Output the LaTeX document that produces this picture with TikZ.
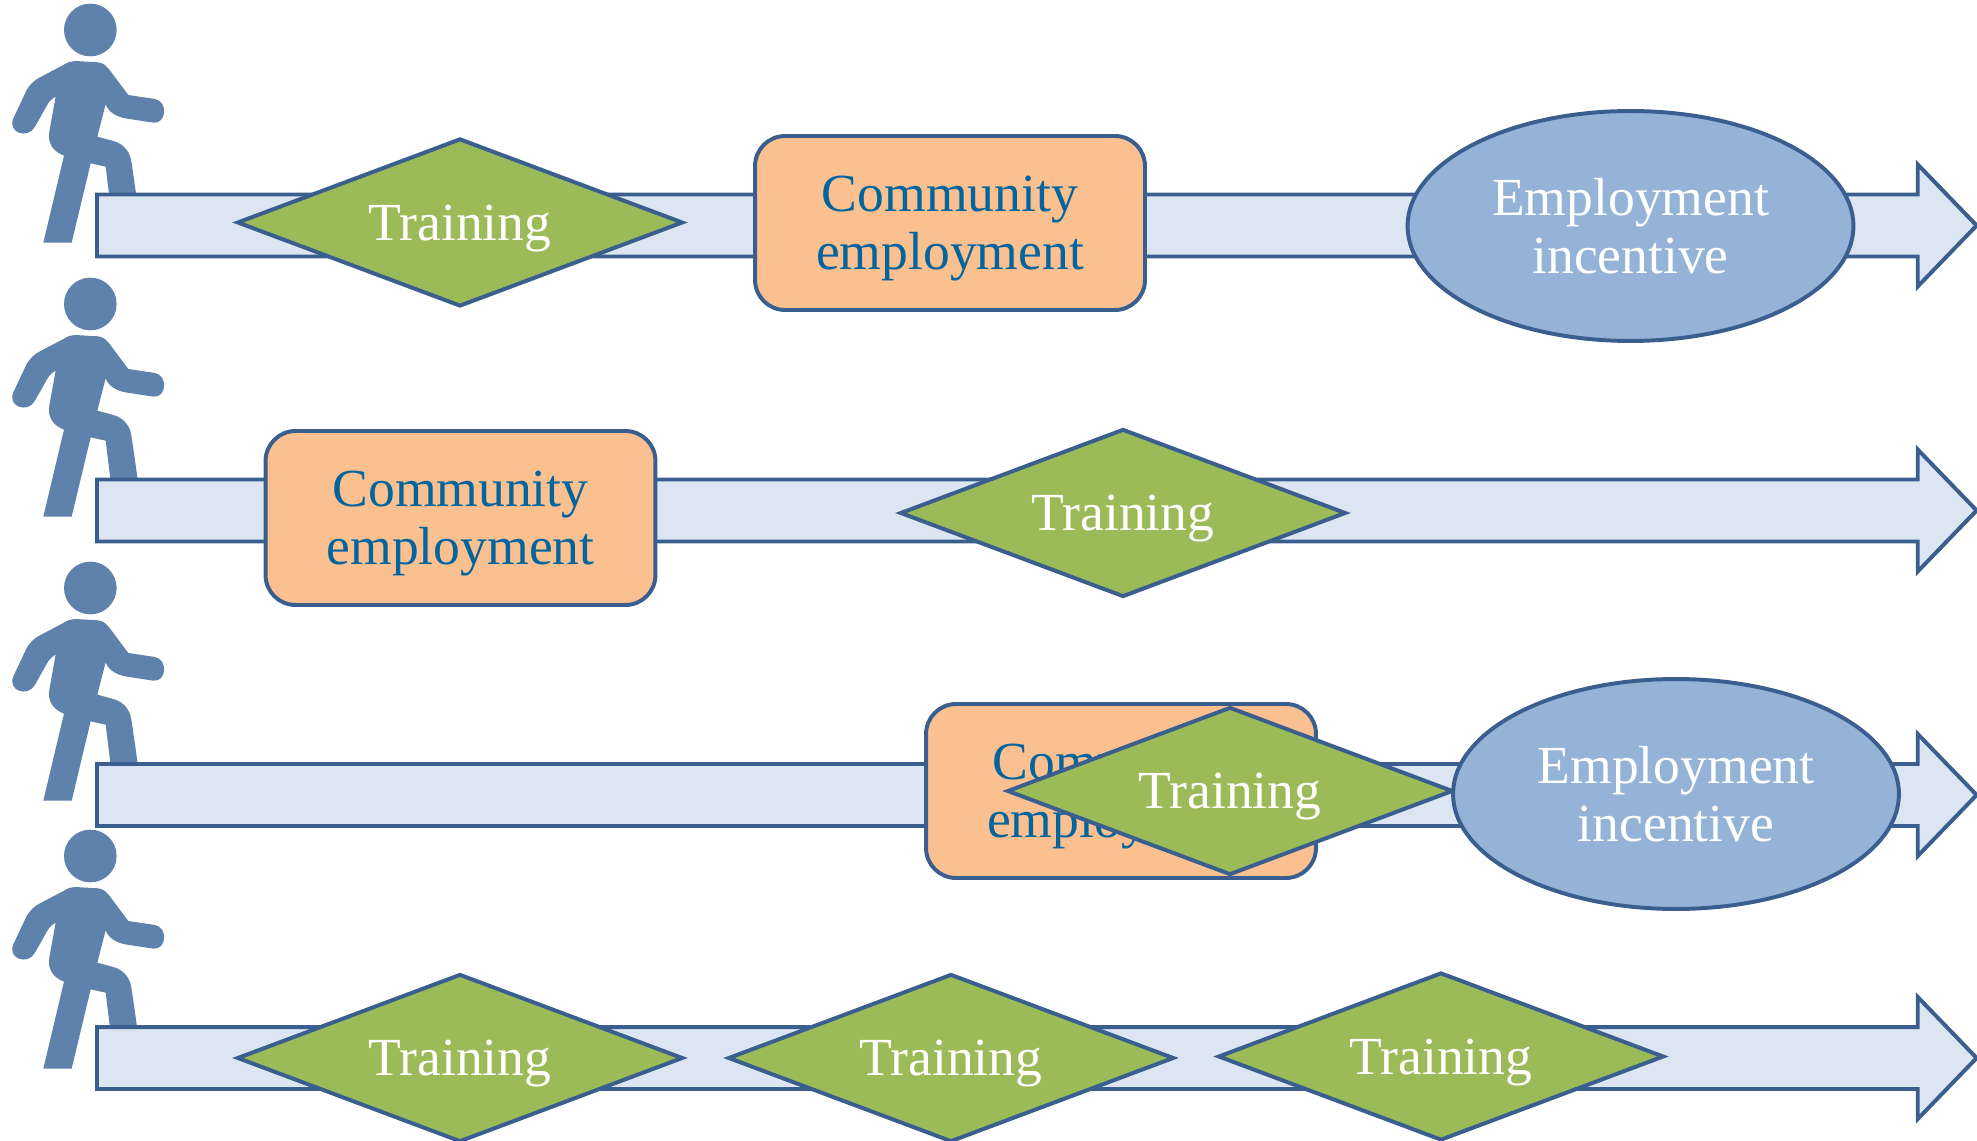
\documentclass[tikz,border=0pt]{standalone}
\usepackage{fontspec}
\setmainfont{Liberation Serif}
\usepackage{xcolor}
\usetikzlibrary{shapes.geometric, shapes.arrows}
\definecolor{edgeblue}{HTML}{3A5F8F}
\definecolor{walkerblue}{HTML}{5F82AD}
\definecolor{pathfill}{HTML}{DCE6F2}
\definecolor{trainfill}{HTML}{9BBB59}
\definecolor{commfill}{HTML}{FAC090}
\definecolor{commtext}{HTML}{04659E}
\definecolor{incfill}{HTML}{95B3D7}

\begin{document}
\begin{tikzpicture}[
              x=0.02cm, y=-0.02cm,
              flowpath/.style={draw=edgeblue, line width=2.25pt, fill=pathfill, single arrow, anchor=tail, outer sep=0pt, single arrow head extend=0.6cm, single arrow tip angle=92, single arrow head indent=0pt, inner sep=0pt, minimum height=37.6cm, minimum width=2.44cm, text height=1.16cm, text width=1cm},
              training/.style={draw=edgeblue, line width=2.25pt, fill=trainfill, diamond, shape aspect=2.655, minimum width=8.92cm, minimum height=3.36cm, inner sep=0pt, text=white, text depth=0pt, font=\fontsize{30.5}{33}\selectfont},
              community/.style={draw=edgeblue, line width=2.25pt, fill=commfill, rounded corners=0.6cm, minimum width=7.8cm, minimum height=3.48cm, inner sep=0pt, align=center, text=commtext, text depth=0pt, font=\fontsize{30.5}{33}\selectfont},
              incentive/.style={draw=edgeblue, line width=2.25pt, fill=incfill, ellipse, minimum width=8.92cm, minimum height=4.6cm, inner sep=0pt, align=center, text=white, font=\fontsize{30.5}{33}\selectfont},
              walker/.pic={
                \fill[walkerblue, scale=1/3] (271,90) circle (79);
                \fill[walkerblue, scale=1/3] (225,183) -- (295,187) .. controls (310,190) and (318,196) .. (325,205) -- (385,285) -- (465,297) .. controls (505,305) and (500,372) .. (460,368) -- (375,355) .. controls (345,348) and (325,335) .. (317,313) -- (292,410) -- (340,423) .. controls (375,433) and (392,460) .. (395,490) -- (408,580) -- (428,728) -- (345,728) -- (317,500) -- (272,490) -- (215,728) -- (130,728) -- (192,467) .. controls (160,455) and (142,430) .. (148,395) -- (167,290) .. controls (152,298) and (145,308) .. (140,318) -- (105,380) .. controls (85,418) and (22,400) .. (40,355) -- (80,270) .. controls (92,250) and (105,240) .. (120,232) -- (190,195) .. controls (203,187) and (213,183) .. (225,183) -- cycle;
              }
            ]
            \useasboundingbox (0,0) rectangle (1977,1141);

            % Walkers
            \pic (walkerA) at (0,0) {walker};
            \pic (walkerB) at (0,274) {walker};
            \pic (walkerC) at (0,558) {walker};
            \pic (walkerD) at (0,826) {walker};

            % Row one
            \node[flowpath] (pathA) at (97,225.5) {};
            \node[training] (trainA) at (460,222.5) {Training};
            \node[community] (commA) at (950,223) {Community \\ employment};
            \node[incentive] (incA) at (1630.5,226) {Employment \\ incentive};

            % Row two
            \node[flowpath] (pathB) at (97,510.5) {};
            \node[community] (commB) at (460.5,518) {Community \\ employment};
            \node[training] (trainB) at (1123,513) {Training};

            % Row three
            \node[flowpath] (pathC) at (97,795) {};
            \node[community] (commC) at (1121,791) {Community \\ employment};
            \node[training] (trainC) at (1230,791) {Training};
            \node[incentive] (incC) at (1676,794) {Employment \\ incentive};

            % Row four
            \node[flowpath] (pathD) at (97,1058) {};
            \node[training] (trainD) at (460,1058) {Training};
            \node[training] (trainE) at (951,1058) {Training};
            \node[training] (trainF) at (1441,1056.5) {Training};
            \end{tikzpicture}
\end{document}
